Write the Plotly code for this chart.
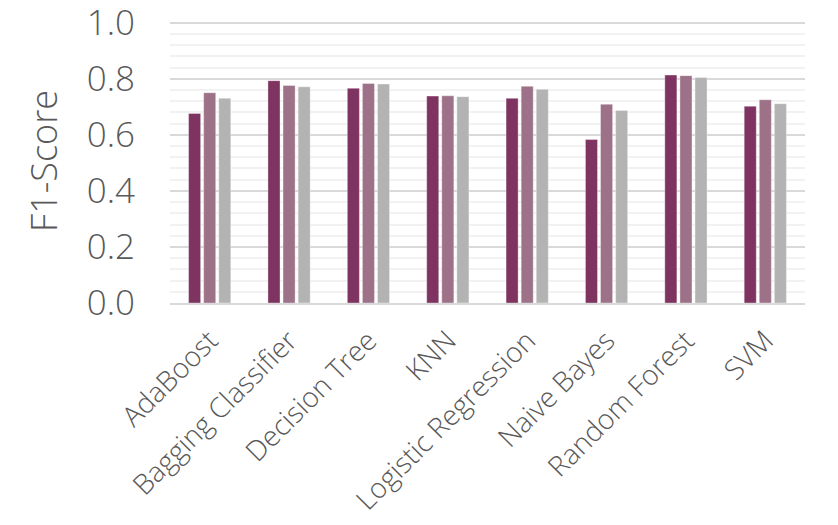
import plotly.graph_objects as go

categories = ["AdaBoost", "Bagging Classifier", "Decision Tree", "KNN",
              "Logistic Regression", "Naive Bayes", "Random Forest", "SVM"]
series_a = [0.676, 0.793, 0.766, 0.738, 0.730, 0.583, 0.813, 0.702]
series_b = [0.750, 0.776, 0.783, 0.739, 0.773, 0.709, 0.811, 0.725]
series_c = [0.730, 0.771, 0.781, 0.736, 0.762, 0.687, 0.804, 0.711]
y_ticks = [0.0, 0.2, 0.4, 0.6, 0.8, 1.0]
y_tick_text = ["0.0", "0.2", "0.4", "0.6", "0.8", "1.0"]

colors = ["#7E3360", "#9D7187", "#B3B3B3"]
FONT = "Open Sans"

fig = go.Figure()
for vals, col, name in zip([series_a, series_b, series_c], colors, ["A", "B", "C"]):
    fig.add_trace(go.Bar(x=categories, y=vals, name=name,
                         marker=dict(color=col, line=dict(color="rgba(255,255,255,0.6)", width=0.6))))

fig.update_layout(
    width=838, height=525,
    margin=dict(l=170, r=33, t=19, b=222, autoexpand=False),
    plot_bgcolor="white", paper_bgcolor="white",
    barmode="group", bargap=0.43, bargroupgap=0.2,
    showlegend=False,
    font=dict(family=FONT, color="#595959"),
)
fig.update_yaxes(
    range=[0, 1.013], tickvals=y_ticks, ticktext=y_tick_text,
    tickfont=dict(size=35, family=FONT, color="#595959", weight=300),
    ticklabeloverflow="allow", automargin=False,
    showgrid=True, gridcolor="#D9D9D9", gridwidth=2,
    minor=dict(tickvals=[i * 0.04 for i in range(1, 25) if i % 5 != 0], showgrid=True,
               gridcolor="#F2F2F2", gridwidth=2),
    zeroline=False, showline=False,
    ticks="", ticklabelstandoff=34,
    title=dict(text="F1-Score", font=dict(size=36, family=FONT, color="#595959", weight=300), standoff=18),
)
fig.update_xaxes(
    tickangle=-45, automargin=False,
    tickfont=dict(size=28, family=FONT, color="#595959", weight=300),
    showline=True, linecolor="#D9D9D9", linewidth=2,
    showgrid=False, ticks="", ticklabelstandoff=8,
)
fig.write_html("out.html")
